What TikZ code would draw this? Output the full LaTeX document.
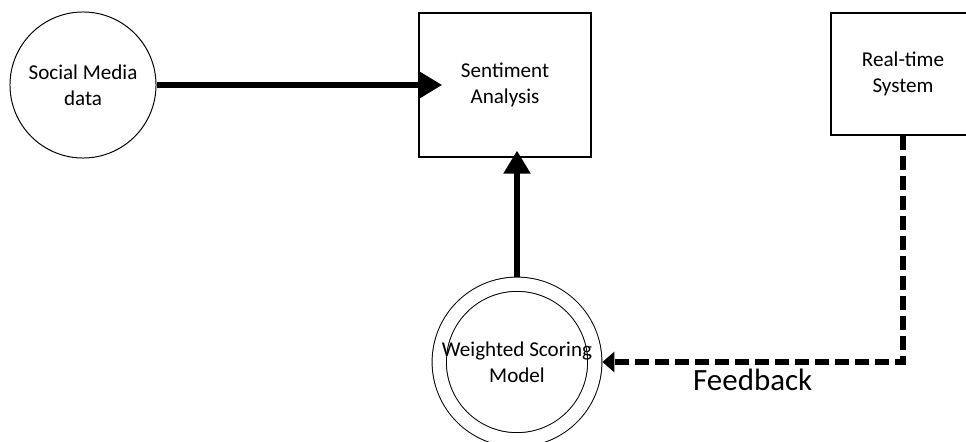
\documentclass[tikz,border=0pt]{standalone}
\usepackage{fontspec}
\setmainfont{Carlito}
\usetikzlibrary{arrows.meta, positioning, shapes.geometric}

\begin{document}
\begin{tikzpicture}[
  x=0.025cm, y=-0.025cm,
  source/.style={circle, draw, line width=0.7pt, minimum size=3.65cm, inner sep=0pt, font=\fontsize{15}{18.5}\selectfont, align=center},
  stage/.style={rectangle, draw, line width=1.2pt, minimum width=4.3cm, minimum height=3.6cm, font=\fontsize{15}{18.5}\selectfont, align=center},
  model/.style={circle, draw, line width=0.7pt, double, double distance=0.33cm, minimum size=3.875cm, inner sep=0pt, outer sep=0.19cm, font=\fontsize{15}{18.5}\selectfont, align=center},
  arrow/.style={-{Triangle[length=0.575cm, width=0.65cm]}, line width=3.8pt},
  feedback/.style={-{Triangle[length=0.3cm, width=0.5cm]}, line width=4.2pt, dash pattern=on 0.35cm off 0.15cm}
]
  \path[use as bounding box, clip] (0,0) rectangle (966,441);

  % Input
  \node[source] (social) at (83,85) {Social Media\\data};

  % Analysis
  \node[stage] (senti) at (505,85) {Sentiment\\Analysis};
  \node[stage, minimum width=3.6cm, minimum height=3.05cm] (realtime) at (903,74) {Real-time\\System};

  % Scoring
  \node[model] (scoring) at (517,362) {Weighted Scoring\\Model};

  % Arrows
  \draw[arrow, shorten >=-0.6cm] (social) -- (senti.west);
  \draw[arrow, shorten >=-0.18cm] (scoring.north) -- (scoring.north |- senti.south);
  \draw[feedback] (realtime.south) |- (scoring.east)
    node[pos=0.75, below=0.1cm, inner sep=0pt, font=\fontsize{22}{26}\selectfont] (fb) {Feedback};
\end{tikzpicture}
\end{document}
